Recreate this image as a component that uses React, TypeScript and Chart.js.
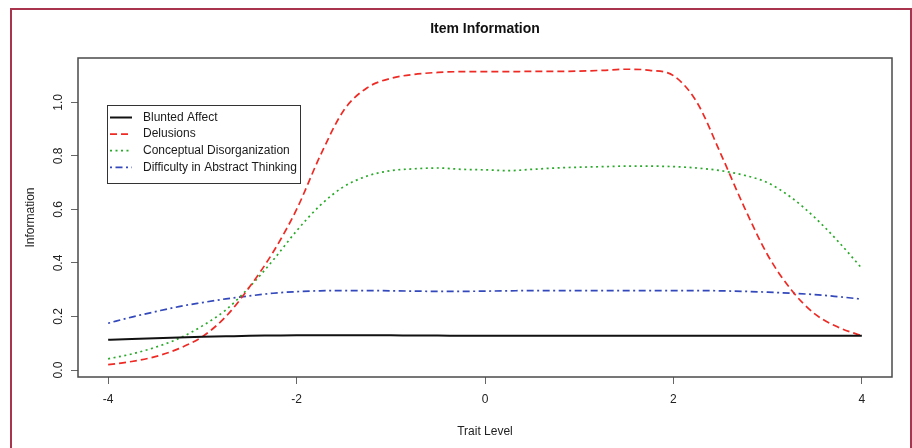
import React, { useEffect, useRef } from "react";
import { Chart, registerables } from "chart.js";

Chart.register(...registerables);

const traitLevels = [
  -4, -3.75, -3.5, -3.25, -3, -2.75, -2.5, -2.25, -2, -1.75, -1.5, -1.25, -1, -0.75, -0.5, -0.25,
  0, 0.25, 0.5, 0.75, 1, 1.25, 1.5, 1.75, 2, 2.25, 2.5, 2.75, 3, 3.25, 3.5, 3.75, 4,
];

const bluntedAffect = [
  0.113, 0.116, 0.119, 0.122, 0.124, 0.126, 0.128, 0.129, 0.13, 0.13, 0.13, 0.13, 0.13, 0.129, 0.129, 0.128,
  0.128, 0.128, 0.128, 0.128, 0.128, 0.128, 0.128, 0.128, 0.128, 0.128, 0.128, 0.128, 0.128, 0.128, 0.128, 0.128, 0.128,
];

const delusions = [
  0.02, 0.032, 0.05, 0.08, 0.125, 0.2, 0.31, 0.44, 0.6, 0.8, 0.97, 1.055, 1.09, 1.105, 1.112, 1.115,
  1.115, 1.115, 1.116, 1.116, 1.117, 1.12, 1.124, 1.12, 1.1, 1.0, 0.81, 0.61, 0.43, 0.3, 0.21, 0.16, 0.128,
];

const conceptualDisorganization = [
  0.042, 0.06, 0.085, 0.118, 0.165, 0.225, 0.31, 0.41, 0.52, 0.615, 0.685, 0.725, 0.745, 0.752, 0.755, 0.75,
  0.748, 0.745, 0.75, 0.755, 0.758, 0.76, 0.762, 0.762, 0.76, 0.755, 0.745, 0.728, 0.7, 0.645, 0.57, 0.48, 0.38,
];

const abstractThinking = [
  0.175, 0.198, 0.218, 0.237, 0.252, 0.266, 0.277, 0.287, 0.293, 0.296, 0.297, 0.297, 0.296, 0.295, 0.294, 0.294,
  0.295, 0.296, 0.297, 0.297, 0.297, 0.297, 0.297, 0.297, 0.297, 0.297, 0.296, 0.294, 0.291, 0.287, 0.282, 0.274, 0.265,
];

const seriesNames = [
  "Blunted Affect",
  "Delusions",
  "Conceptual Disorganization",
  "Difficulty in Abstract Thinking",
];

const chartTitle = "Item Information";
const xTickValues = [-4, -2, 0, 2, 4];
const yTickValues = [0, 0.2, 0.4, 0.6, 0.8, 1.0];

const FONT = "'Liberation Sans', Arial, Helvetica, sans-serif";

export default function App() {
  const canvasRef = useRef<HTMLCanvasElement>(null);

  useEffect(() => {
    const canvas = canvasRef.current;
    if (!canvas) return;

    const pts = (ys: number[]) => traitLevels.map((x, i) => ({ x, y: ys[i] }));

    const framePlugin = {
      id: "rframe",
      afterDatasetsDraw(chart: any) {
        const { ctx, chartArea } = chart;
        const { left, top, right, bottom } = chartArea;
        ctx.save();
        ctx.strokeStyle = "#4a4a4a";
        ctx.lineWidth = 1.5;
        ctx.setLineDash([]);
        ctx.strokeRect(left, top, right - left, bottom - top);
        ctx.restore();
      },
    };

    const titlePlugin = {
      id: "rtitle",
      afterDraw(chart: any) {
        const { ctx, chartArea } = chart;
        ctx.save();
        ctx.font = `bold 14px ${FONT}`;
        ctx.fillStyle = "#111";
        ctx.textAlign = "center";
        ctx.textBaseline = "middle";
        ctx.fillText(chartTitle, (chartArea.left + chartArea.right) / 2, chartArea.top - 29);
        ctx.restore();
      },
    };

    const legendPlugin = {
      id: "rlegend",
      afterDraw(chart: any) {
        const { ctx, chartArea } = chart;
        const bx = chartArea.left + 29;
        const by = chartArea.top + 47;
        const bw = 193;
        const bh = 78;
        ctx.save();
        ctx.fillStyle = "#ffffff";
        ctx.fillRect(bx, by, bw, bh);
        ctx.strokeStyle = "#333";
        ctx.lineWidth = 1;
        ctx.setLineDash([]);
        ctx.strokeRect(bx + 0.5, by + 0.5, bw, bh);
        ctx.font = `12px ${FONT}`;
        ctx.textBaseline = "middle";
        ctx.textAlign = "left";
        chart.data.datasets.forEach((ds: any, i: number) => {
          const y = by + 12.5 + i * 16.6;
          ctx.strokeStyle = ds.borderColor;
          ctx.lineWidth = ds.borderWidth;
          ctx.setLineDash(ds.borderDash || []);
          ctx.beginPath();
          ctx.moveTo(bx + 3, y);
          ctx.lineTo(bx + 25, y);
          ctx.stroke();
          ctx.setLineDash([]);
          ctx.fillStyle = "#1a1a1a";
          ctx.fillText(ds.label, bx + 36, y);
        });
        ctx.restore();
      },
    };

    const chart = new Chart(canvas, {
      type: "line",
      data: {
        datasets: [
          {
            label: seriesNames[0],
            data: pts(bluntedAffect),
            borderColor: "#111111",
            borderWidth: 2,
            borderDash: [],
          },
          {
            label: seriesNames[1],
            data: pts(delusions),
            borderColor: "#ee2a24",
            borderWidth: 1.7,
            borderDash: [7, 4],
          },
          {
            label: seriesNames[2],
            data: pts(conceptualDisorganization),
            borderColor: "#2aaa2a",
            borderWidth: 1.7,
            borderDash: [2, 3.5],
          },
          {
            label: seriesNames[3],
            data: pts(abstractThinking),
            borderColor: "#3348bb",
            borderWidth: 1.7,
            borderDash: [2, 3.5, 7, 3.5],
          },
        ] as any,
      },
      options: {
        animation: false,
        responsive: false,
        maintainAspectRatio: false,
        devicePixelRatio: 1,
        layout: { padding: { left: 0, right: 20, top: 58, bottom: 0 } },
        elements: {
          point: { radius: 0, hoverRadius: 0 },
          line: { cubicInterpolationMode: "monotone", fill: false },
        },
        plugins: {
          legend: { display: false },
          tooltip: { enabled: false },
          title: { display: false },
        },
        scales: {
          x: {
            type: "linear",
            min: -4.32,
            max: 4.32,
            afterBuildTicks(scale: any) {
              scale.ticks = xTickValues.map((v) => ({ value: v }));
            },
            afterFit(scale: any) {
              scale.height = 71;
            },
            ticks: {
              color: "#222",
              font: { family: FONT, size: 12 },
              padding: 8,
              maxRotation: 0,
              minRotation: 0,
              callback: (v: any) => String(v),
            },
            grid: {
              drawOnChartArea: false,
              drawTicks: true,
              tickLength: 7,
              color: "#666",
              lineWidth: 1,
            },
            border: { display: false },
            title: {
              display: true,
              text: "Trait Level",
              color: "#222",
              font: { family: FONT, size: 12, lineHeight: 1.2 },
              padding: { top: 0, bottom: 8.8 },
            },
          },
          y: {
            type: "linear",
            min: -0.026,
            max: 1.166,
            afterBuildTicks(scale: any) {
              scale.ticks = yTickValues.map((v) => ({ value: v }));
            },
            afterFit(scale: any) {
              scale.width = 78;
            },
            ticks: {
              color: "#222",
              font: { family: FONT, size: 12 },
              padding: 4,
              minRotation: 90,
              maxRotation: 90,
              crossAlign: "center",
              callback: (v: any) => Number(v).toFixed(1),
            },
            grid: {
              drawOnChartArea: false,
              drawTicks: true,
              tickLength: 7,
              color: "#666",
              lineWidth: 1,
            },
            border: { display: false },
            title: {
              display: true,
              text: "Information",
              color: "#222",
              font: { family: FONT, size: 12, lineHeight: 1.2 },
              padding: { top: 23, bottom: 0 },
            },
          },
        },
      } as any,
      plugins: [framePlugin, titlePlugin, legendPlugin],
    });

    return () => {
      chart.destroy();
    };
  }, []);

  return (
    <div
      style={{
        position: "fixed",
        left: 0,
        top: 0,
        width: 912,
        height: 448,
        overflow: "hidden",
        background: "#ffffff",
      }}
    >
      <canvas ref={canvasRef} width={912} height={448} style={{ display: "block" }} />
      <div
        style={{
          position: "absolute",
          left: 10,
          top: 8,
          width: 902,
          height: 470,
          border: "2px solid #a8344e",
          boxSizing: "border-box",
          pointerEvents: "none",
        }}
      />
    </div>
  );
}
